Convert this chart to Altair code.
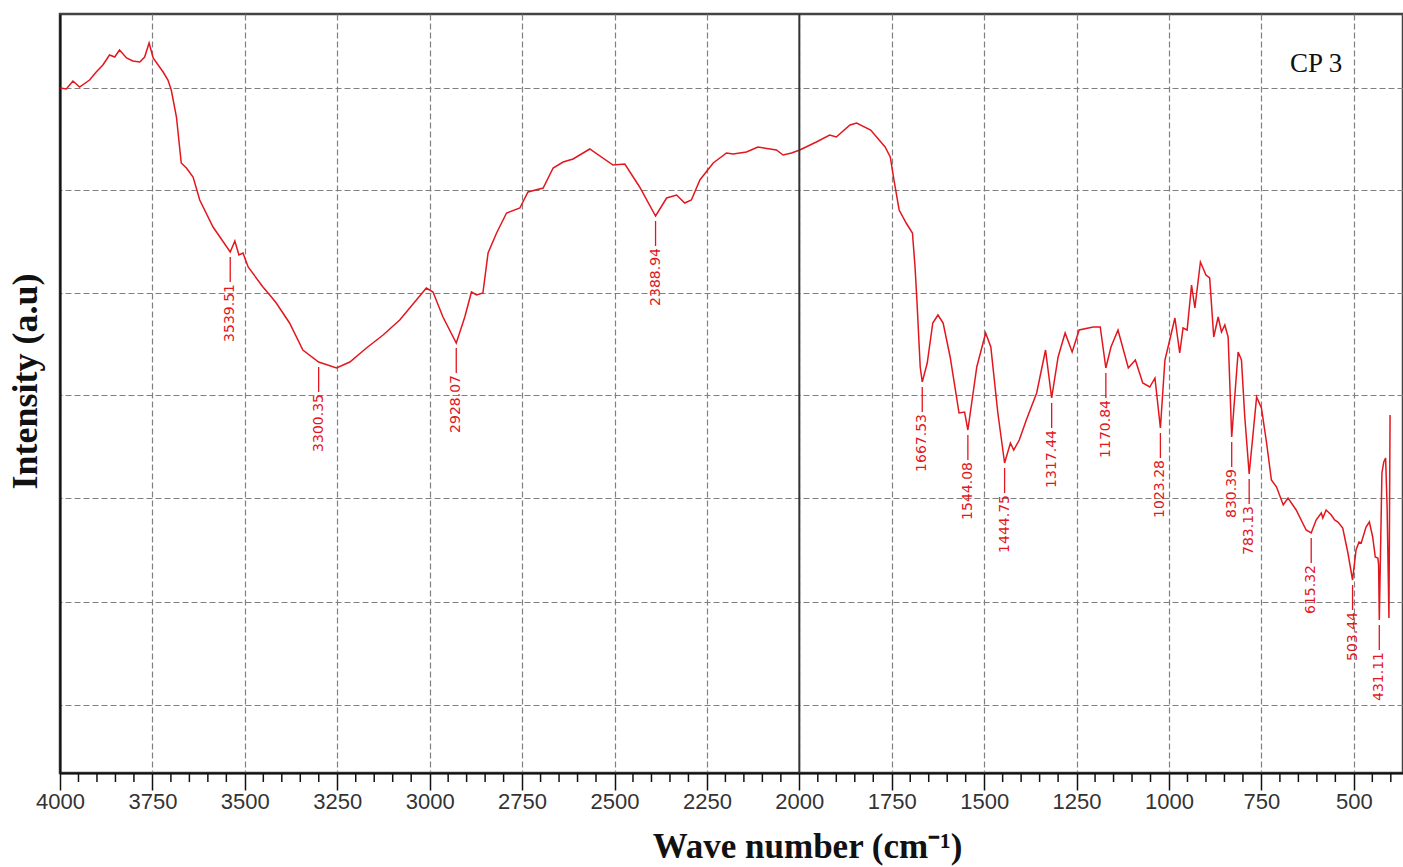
import altair as alt
import pandas as pd

# FTIR spectrum of CP 3 (wavenumber in cm-1, intensity in arbitrary units)
wavenumber = [
    3999, 3983, 3965, 3947, 3920, 3902, 3884, 3866, 3852, 3839,
    3820, 3803, 3784, 3771, 3759, 3748, 3721, 3708, 3699, 3685,
    3672, 3658, 3640, 3622, 3586, 3539.51, 3527, 3516, 3505, 3491,
    3451, 3428, 3415, 3379, 3343, 3300.35, 3252, 3216, 3171, 3126,
    3081, 3036, 3009, 2991, 2964, 2928.07, 2905, 2887, 2873, 2856,
    2842, 2819, 2792, 2756, 2734, 2693, 2666, 2639, 2612, 2567,
    2504, 2472, 2432, 2388.94, 2359, 2332, 2310, 2292, 2269, 2233,
    2197, 2179, 2143, 2112, 2062, 2044, 2021, 1999, 1954, 1918,
    1900, 1863, 1845, 1807, 1768, 1754, 1744, 1730, 1711, 1694,
    1687, 1682, 1673, 1667.53, 1654, 1639, 1625, 1611, 1592, 1568,
    1553, 1544.08, 1520, 1496, 1482, 1463, 1444.75, 1429, 1420, 1405,
    1386, 1358, 1334, 1317.44, 1300, 1281, 1262, 1243, 1205, 1186,
    1170.84, 1157, 1138, 1110, 1091, 1071, 1052, 1038, 1023.28, 1011,
    998, 984, 971, 962, 951, 939, 930, 915, 900, 890,
    879, 867, 858, 849, 840, 830.39, 813, 804, 795, 783.13,
    763, 750, 736, 723, 709, 691, 678, 656, 629, 615.32,
    602, 588, 584, 575, 561, 552, 543, 530, 516, 503.44,
    494, 486, 480, 467, 458, 449, 442, 435, 433, 431.11,
    424, 419, 414, 410, 405, 402,
]
intensity = [
    68.5, 68.4, 69.2, 68.6, 69.3, 70.1, 70.8, 71.8, 71.6, 72.3,
    71.5, 71.2, 71.1, 71.6, 73.0, 71.5, 70.1, 69.3, 68.3, 65.6,
    61.0, 60.5, 59.6, 57.3, 54.6, 52.1, 53.2, 51.8, 52.0, 50.6,
    48.6, 47.6, 47.0, 45.0, 42.3, 41.1, 40.5, 41.1, 42.5, 43.8,
    45.3, 47.3, 48.5, 48.1, 45.6, 43.0, 45.6, 48.1, 47.8, 48.0,
    52.0, 54.0, 56.0, 56.5, 58.1, 58.5, 60.5, 61.1, 61.4, 62.4,
    60.8, 60.9, 58.6, 55.7, 57.5, 57.8, 57.0, 57.3, 59.3, 61.0,
    62.0, 61.9, 62.1, 62.6, 62.3, 61.8, 62.0, 62.3, 63.1, 63.8,
    63.6, 64.8, 65.0, 64.3, 62.6, 61.6, 59.3, 56.3, 55.0, 54.0,
    50.6, 47.3, 40.6, 39.1, 41.0, 45.0, 45.8, 45.0, 41.6, 36.0,
    36.1, 34.3, 40.6, 44.0, 42.6, 36.0, 31.0, 33.0, 32.3, 33.3,
    35.3, 38.0, 42.3, 37.5, 41.6, 44.0, 42.1, 44.3, 44.6, 44.6,
    40.5, 42.6, 44.3, 40.5, 41.3, 39.0, 38.6, 39.5, 34.5, 41.3,
    43.3, 45.5, 42.0, 44.5, 44.3, 48.8, 46.5, 51.1, 49.8, 49.5,
    43.6, 45.6, 44.1, 44.8, 43.6, 33.6, 42.1, 41.3, 35.6, 29.9,
    37.6, 36.5, 33.0, 29.3, 28.6, 26.8, 27.5, 26.3, 24.3, 24.0,
    25.3, 26.0, 25.5, 26.3, 25.8, 25.3, 25.1, 24.5, 22.0, 19.3,
    22.3, 23.1, 23.0, 24.6, 25.1, 23.6, 21.6, 21.5, 20.8, 15.3,
    30.0, 31.1, 31.5, 26.6, 15.5, 35.8,
]

# Labelled absorption bands
peak_positions = [
    3539.51, 3300.35, 2928.07, 2388.94, 1667.53, 1544.08, 1444.75,
    1317.44, 1170.84, 1023.28, 830.39, 783.13, 615.32, 503.44, 431.11,
]

# Axis tick and grid positions
x_major = list(range(4000, 499, -250))
x_minor = [v for v in range(4000, 367, -50) if v % 250]
y_grid = [6.8, 17.1, 27.5, 37.8, 48.0, 58.3, 68.5]
divider = [2000]

spectrum = pd.DataFrame({"wn": wavenumber, "I": intensity,
                         "idx": list(range(len(wavenumber)))})
level = dict(zip(wavenumber, intensity))
peaks = pd.DataFrame({
    "wn": peak_positions,
    "I": [level[p] for p in peak_positions],
    "label": [f"{p:.2f}" for p in peak_positions],
})

RED = "#e3161e"
x_scale = alt.Scale(domain=[367, 4000], reverse=True, nice=False, zero=False)
y_scale = alt.Scale(domain=[0, 75.9], nice=False, zero=False)

x_axis = alt.Axis(
    values=x_major, format="d",
    labelFont="Liberation Sans", labelFontSize=22, labelColor="#333",
    labelPadding=1, labelFlush=False, labelOverlap=False,
    tickSize=17, tickColor="#111", tickWidth=1.5,
    domainColor="#111", domainWidth=2,
    grid=True, gridColor="#808080", gridDash=[6, 3], gridWidth=1.2,
    title="Wave number (cm⁻¹)", titleFont="Liberation Serif",
    titleFontSize=35, titleFontWeight="bold", titleColor="#111",
    titleX=747, titleY=84, titleAlign="center", titleBaseline="alphabetic",
)
y_axis = alt.Axis(
    values=y_grid, labels=False, ticks=False,
    domainColor="#111", domainWidth=2,
    grid=True, gridColor="#808080", gridDash=[6, 3], gridWidth=1.2,
    title="Intensity (a.u)", titleFont="Liberation Serif",
    titleFontSize=36, titleFontWeight="bold", titleColor="#111",
    titleAngle=270, titleX=-24, titleY=367, titleAlign="center",
    titleBaseline="alphabetic",
)

# Spectrum trace; this layer carries both axes and their grids
line = alt.Chart(spectrum).mark_line(color=RED, strokeWidth=1.5).encode(
    x=alt.X("wn:Q", scale=x_scale, axis=x_axis),
    y=alt.Y("I:Q", scale=y_scale, axis=y_axis),
    order="idx:Q",
)

# Solid separator at 2000 cm-1
divider_line = alt.Chart(pd.DataFrame({"wn": divider})).mark_rule(
    color="#333", strokeWidth=2
).encode(x=alt.X("wn:Q", scale=x_scale))

# Minor ticks every 50 cm-1 below the x axis
minor_ticks = alt.Chart(pd.DataFrame({"wn": x_minor})).mark_rule(
    color="#111", strokeWidth=1.5
).encode(
    x=alt.X("wn:Q", scale=x_scale),
    y=alt.value(759), y2=alt.value(768),
)

# Leader lines and rotated band labels
leaders = alt.Chart(peaks).transform_calculate(
    top="datum.I - 0.5", bottom="datum.I - 3.0"
).mark_rule(color=RED, strokeWidth=1.3).encode(
    x=alt.X("wn:Q", scale=x_scale),
    y=alt.Y("top:Q", scale=y_scale),
    y2="bottom:Q",
)

labels = alt.Chart(peaks).transform_calculate(
    ty="datum.I - 3.2"
).mark_text(
    angle=270, align="right", baseline="middle",
    font="DejaVu Sans", fontSize=14, color=RED,
).encode(
    x=alt.X("wn:Q", scale=x_scale),
    y=alt.Y("ty:Q", scale=y_scale),
    text="label:N",
)

sample = alt.Chart(pd.DataFrame({"t": ["CP 3"]})).mark_text(
    font="Liberation Serif", fontSize=27, align="left",
    baseline="alphabetic", color="#111",
).encode(x=alt.value(1230), y=alt.value(58), text="t:N")

chart = alt.layer(
    line, divider_line, minor_ticks, leaders, labels, sample
).properties(
    width=1343, height=759,
    padding={"left": 60, "top": 14, "right": 0, "bottom": 94},
    autosize=alt.AutoSizeParams(type="none"),
    background="white",
).configure_view(stroke="#444", strokeWidth=2.5)

chart.save("out.html", embed_options={"renderer": "svg", "actions": False})
